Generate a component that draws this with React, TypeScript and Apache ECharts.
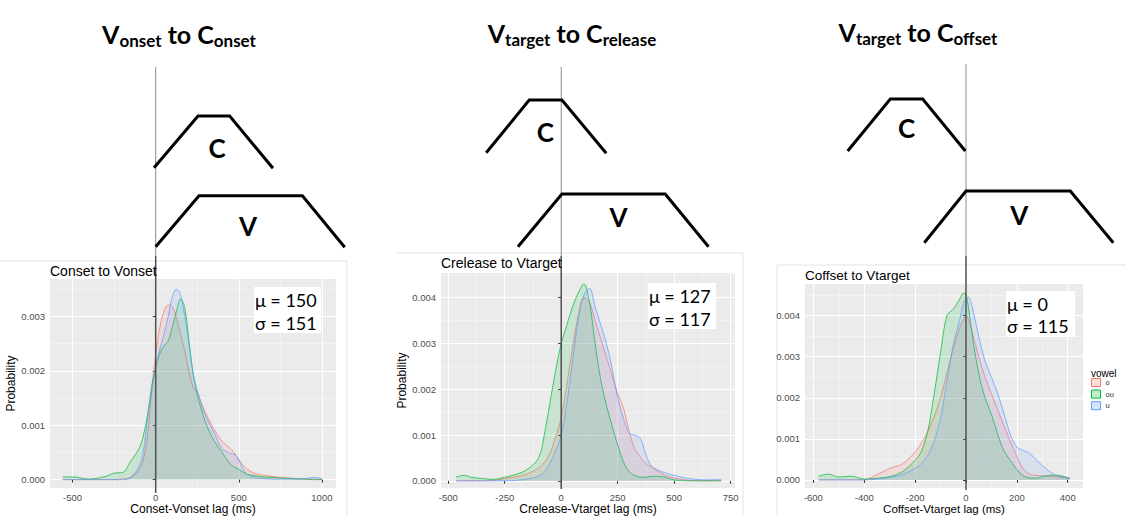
import React, { useEffect, useRef } from 'react';
import * as echarts from 'echarts';

// ---------- data ----------
const VOWELS = ['o', 'ou', 'u'];
const COLORS = ['#F8766D', '#00BA38', '#619CFF'];

// Panel 1: Conset to Vonset
const P1_X = [-560, -500, -400, -300, -250, -200, -150, -100, -75, -50, -25, 0, 25, 50, 75, 100, 125, 150, 175, 200, 225, 250, 275, 300, 350, 400, 450, 475, 500, 525, 550, 600, 650, 700, 800, 900, 950, 1000];
const P1_O = [0, 0, 0, 0, 0, 0.00001, 0.00004, 0.00018, 0.00036, 0.0008, 0.0016, 0.0023, 0.0028, 0.0031, 0.00321, 0.00318, 0.00298, 0.00267, 0.00237, 0.002, 0.0017, 0.0016, 0.0014, 0.00123, 0.00093, 0.0007, 0.00057, 0.00048, 0.00037, 0.00027, 0.00019, 0.00011, 0.00008, 0.00006, 0.00003, 0.00001, 0.00001, 0];
const P1_OU = [0.00005, 0.00005, 0.00001, 0.00006, 0.00012, 0.00013, 0.00034, 0.00057, 0.0008, 0.00117, 0.0017, 0.00207, 0.00232, 0.00246, 0.00255, 0.0028, 0.0031, 0.00332, 0.00316, 0.00255, 0.00195, 0.00156, 0.0013, 0.00105, 0.00072, 0.0005, 0.00028, 0.00023, 0.00019, 0.00014, 0.0001, 0.00007, 0.00005, 0.00004, 0.00002, 0.00001, 0, 0];
const P1_U = [0, 0, 0, 0, 0, 0, 0.00004, 0.00025, 0.0005, 0.0011, 0.0016, 0.00207, 0.0024, 0.00267, 0.003, 0.00336, 0.0035, 0.0034, 0.003, 0.0025, 0.00195, 0.00165, 0.0014, 0.00117, 0.00087, 0.00057, 0.00048, 0.00046, 0.00036, 0.0002, 0.0001, 0.00004, 0.00002, 0.00001, 0.00001, 0.00002, 0.00004, 0.00002];
const P1_X_TICKS = [-500, 0, 500, 1000];
const P1_X_MINOR = [-250, 250, 750];
const P1_Y_TICKS = [0, 0.001, 0.002, 0.003];
const P1_Y_MINOR = [0.0005, 0.0015, 0.0025, 0.0035];

// Panel 2: Crelease to Vtarget
const P2_X = [-465, -430, -400, -350, -300, -250, -200, -150, -100, -75, -50, -25, 0, 25, 50, 75, 100, 125, 150, 175, 200, 225, 250, 275, 300, 325, 350, 375, 400, 450, 500, 550, 600, 650, 708];
const P2_O = [0, 0, 0, 0, 0.00001, 0.00005, 0.00009, 0.00015, 0.00028, 0.0004, 0.0006, 0.00095, 0.00137, 0.0021, 0.0029, 0.0036, 0.004, 0.0039, 0.0035, 0.0031, 0.0027, 0.0023, 0.0019, 0.0016, 0.0011, 0.0007, 0.00052, 0.00037, 0.0003, 0.00014, 0.00006, 0.00002, 0, 0, 0];
const P2_OU = [0.00008, 0.00012, 0.00008, 0.00005, 0.00003, 0.00008, 0.00014, 0.00025, 0.0005, 0.001, 0.0017, 0.0024, 0.003, 0.0034, 0.0038, 0.0041, 0.0043, 0.0039, 0.003, 0.0022, 0.00165, 0.0012, 0.00078, 0.00042, 0.0002, 0.00012, 0.00008, 0.00008, 0.0001, 0.00009, 0.00002, 0, 0, 0, 0];
const P2_U = [0, 0, 0, 0, 0, 0, 0.00001, 0.00004, 0.0001, 0.00018, 0.00038, 0.00065, 0.001, 0.0017, 0.0026, 0.0035, 0.00405, 0.0042, 0.0038, 0.0034, 0.003, 0.00246, 0.0018, 0.00137, 0.00104, 0.001, 0.00093, 0.00057, 0.00032, 0.00019, 0.00012, 0.00006, 0.00003, 0.00002, 0.00003];
const P2_X_TICKS = [-500, -250, 0, 250, 500, 750];
const P2_X_MINOR = [-375, -125, 125, 375, 625];
const P2_Y_TICKS = [0, 0.001, 0.002, 0.003, 0.004];
const P2_Y_MINOR = [0.0005, 0.0015, 0.0025, 0.0035, 0.0045];

// Panel 3: Coffset to Vtarget
const P3_X = [-580, -540, -500, -450, -400, -350, -300, -250, -200, -175, -150, -125, -100, -75, -50, -25, -10, 0, 10, 25, 50, 75, 100, 125, 150, 175, 200, 225, 250, 275, 300, 350, 408];
const P3_O = [0, 0, 0, 0, 0, 0.00013, 0.00028, 0.00039, 0.00068, 0.0009, 0.00118, 0.00155, 0.002, 0.0026, 0.0032, 0.0037, 0.0039, 0.004, 0.0039, 0.0036, 0.003, 0.0025, 0.0021, 0.0017, 0.0013, 0.00093, 0.00057, 0.00027, 0.00014, 0.00011, 0.0001, 0.00008, 0.00004];
const P3_OU = [0.00009, 0.00014, 0.00007, 0.00009, 0.00002, 0.00004, 0.00008, 0.0002, 0.00048, 0.0007, 0.0012, 0.0021, 0.0031, 0.004, 0.00416, 0.0044, 0.00455, 0.0045, 0.0042, 0.0035, 0.0026, 0.002, 0.0016, 0.0011, 0.0007, 0.00047, 0.00025, 0.0001, 0.00005, 0.00004, 0.00008, 0.00012, 0.00004];
const P3_U = [0, 0, 0, 0, 0, 0.00002, 0.00006, 0.00013, 0.00028, 0.0004, 0.0006, 0.00095, 0.0015, 0.0024, 0.0033, 0.0039, 0.0043, 0.00442, 0.00445, 0.0042, 0.0035, 0.0029, 0.0025, 0.0021, 0.0016, 0.0011, 0.0008, 0.00072, 0.00065, 0.0005, 0.00035, 0.00012, 0.00004];
const P3_X_TICKS = [-600, -400, -200, 0, 200, 400];
const P3_X_MINOR = [-500, -300, -100, 100, 300];
const P3_Y_TICKS = [0, 0.001, 0.002, 0.003, 0.004];
const P3_Y_MINOR = [0.0005, 0.0015, 0.0025, 0.0035, 0.0045];

const PLOT_TITLES = ['Conset to Vonset', 'Crelease to Vtarget', 'Coffset to Vtarget'];
const X_NAMES = ['Conset-Vonset lag (ms)', 'Crelease-Vtarget lag (ms)', 'Coffset-Vtarget lag (ms)'];
const MU = [150, 127, 0];
const SIGMA = [151, 117, 115];
const DIAGRAM_TITLES = [
  ['V', 'onset', ' to C', 'onset'],
  ['V', 'target', ' to C', 'release'],
  ['V', 'target', ' to C', 'offset'],
];

// ---------- layout ----------
const PANELS = [
  {
    x: P1_X, ys: [P1_O, P1_OU, P1_U], xTicks: P1_X_TICKS, xMinor: P1_X_MINOR, yTicks: P1_Y_TICKS, yMinor: P1_Y_MINOR,
    grid: { left: 50, top: 279, width: 286, height: 214 }, xMin: -636, xMax: 1085, yMin: -0.000156, yMax: 0.003688,
    yName: 'Probability', xNameGap: 13, xNameSize: 12, titleY: 271, titleSize: 14,
    box: { x: 254, y: 287, w: 67, h: 46, l1: 300, l2: 323 },
    diag: {
      tx: 179, ty: 34, top: 67,
      c: [[-1.7, 167.7], [42.3, 116], [74, 116], [117.3, 168.3]], cl: [61.3, 148],
      v: [[0, 246.7], [43.3, 195.7], [146.7, 195.7], [189, 247.3]], vl: [92.3, 226],
    },
  },
  {
    x: P2_X, ys: [P2_O, P2_OU, P2_U], xTicks: P2_X_TICKS, xMinor: P2_X_MINOR, yTicks: P2_Y_TICKS, yMinor: P2_Y_MINOR,
    grid: { left: 441, top: 273, width: 294, height: 216 }, xMin: -532, xMax: 769, yMin: -0.000159, yMax: 0.004537,
    yName: 'Probability', xNameGap: 14, xNameSize: 12, titleY: 263, titleSize: 14,
    box: { x: 648, y: 283, w: 68, h: 46, l1: 296, l2: 318.5 },
    diag: {
      tx: 572, ty: 33, top: 67,
      c: [[-75, 152.7], [-32, 100], [0.7, 100], [45, 153.3]], cl: [-16, 131.7],
      v: [[-43.3, 246.7], [0.7, 194], [104, 194], [147.3, 246.7]], vl: [57.3, 216.7],
    },
  },
  {
    x: P3_X, ys: [P3_O, P3_OU, P3_U], xTicks: P3_X_TICKS, xMinor: P3_X_MINOR, yTicks: P3_Y_TICKS, yMinor: P3_Y_MINOR,
    grid: { left: 805, top: 284, width: 278, height: 206 }, xMin: -633, xMax: 460, yMin: -0.0002, yMax: 0.004772,
    yName: '', xNameGap: 12.5, xNameSize: 11.5, titleY: 275, titleSize: 13.5,
    box: { x: 1006, y: 291, w: 69, h: 46, l1: 304.3, l2: 326 },
    diag: {
      tx: 918, ty: 32, top: 64,
      c: [[-118.3, 151], [-75.7, 99], [-43.3, 99], [-0.7, 151]], cl: [-59.3, 128.3],
      v: [[-41.7, 242.7], [0, 191], [104.3, 191], [147.3, 242.7]], vl: [53.3, 215],
    },
  },
];

const BORDERS = [
  [[0, 261], [347, 261]], [[347, 261], [347, 516]],
  [[397, 253], [743, 253]], [[743, 253], [743, 516]],
  [[777, 265], [1126, 265]], [[777, 265], [777, 516]],
];

const SANS = '"Liberation Sans", Arial, sans-serif';
const CAL = 'Lato, "Open Sans", sans-serif';

function buildOption(): any {
  const grids: any[] = [];
  const xAxes: any[] = [];
  const yAxes: any[] = [];
  const series: any[] = [];
  PANELS.forEach((p, i) => {
    grids.push({ ...p.grid, show: true, backgroundColor: '#EBEBEB', borderWidth: 0, containLabel: false });
    xAxes.push({
      type: 'value', gridIndex: i, min: p.xMin, max: p.xMax, position: 'bottom',
      axisLine: { show: false },
      axisTick: { show: true, customValues: p.xTicks, length: 3, lineStyle: { color: '#333', width: 1 } },
      axisLabel: { customValues: p.xTicks, fontSize: 9.5, color: '#4D4D4D', margin: 4, fontFamily: SANS, formatter: (v: number) => String(v) },
      splitLine: { show: true, lineStyle: { color: '#FFFFFF', width: 1.1 } },
      name: X_NAMES[i], nameLocation: 'middle', nameGap: p.xNameGap,
      nameTextStyle: { fontSize: p.xNameSize, color: '#000', fontFamily: SANS, verticalAlign: 'top' },
    });
    xAxes.push({
      type: 'value', gridIndex: i, min: p.xMin, max: p.xMax, position: 'top',
      axisLine: { show: false }, axisLabel: { show: false },
      axisTick: { show: false, customValues: p.xMinor },
      splitLine: { show: true, lineStyle: { color: '#F7F7F7', width: 0.6 } },
    });
    yAxes.push({
      type: 'value', gridIndex: i, min: p.yMin, max: p.yMax, position: 'left',
      axisLine: { show: false },
      axisTick: { show: true, customValues: p.yTicks, length: 3, lineStyle: { color: '#333', width: 1 } },
      axisLabel: { customValues: p.yTicks, fontSize: 9.5, color: '#4D4D4D', margin: 5, fontFamily: SANS, formatter: (v: number) => v.toFixed(3) },
      splitLine: { show: true, lineStyle: { color: '#FFFFFF', width: 1.1 } },
      name: p.yName, nameLocation: 'middle', nameGap: 29,
      nameTextStyle: { fontSize: 12, color: '#000', fontFamily: SANS },
    });
    yAxes.push({
      type: 'value', gridIndex: i, min: p.yMin, max: p.yMax, position: 'right',
      axisLine: { show: false }, axisLabel: { show: false },
      axisTick: { show: false, customValues: p.yMinor },
      splitLine: { show: true, lineStyle: { color: '#F7F7F7', width: 0.6 } },
    });
    p.ys.forEach((ys, j) => {
      series.push({
        type: 'line', name: VOWELS[j], xAxisIndex: i * 2, yAxisIndex: i * 2,
        data: p.x.map((x, k) => [x, ys[k]]),
        showSymbol: false, symbol: 'none', smooth: 0.35, silent: true,
        lineStyle: { color: COLORS[j], width: 1, opacity: 0.72 },
        itemStyle: { color: COLORS[j] },
        areaStyle: { color: COLORS[j], opacity: 0.14 },
        z: 3 + j,
      });
    });
  });
  return {
    animation: false,
    backgroundColor: '#FFFFFF',
    grid: grids,
    xAxis: xAxes,
    yAxis: yAxes,
    series,
    legend: {
      orient: 'vertical', left: 1091, top: 378, itemWidth: 9, itemHeight: 8, itemGap: 2.6,
      selectedMode: false, padding: 0,
      textStyle: { fontSize: 7.5, color: '#333', fontFamily: SANS },
      data: VOWELS.map((v, j) => ({
        name: v, icon: 'rect',
        itemStyle: { color: echarts.color.modifyAlpha(COLORS[j], 0.25), borderColor: COLORS[j], borderWidth: 1 },
      })),
    },
  };
}

function buildGraphic(chart: any): any[] {
  const g: any[] = [];
  BORDERS.forEach(([a, b]) => {
    g.push({ type: 'line', silent: true, z: 0, shape: { x1: a[0], y1: a[1], x2: b[0], y2: b[1] }, style: { stroke: '#E4E4E4', lineWidth: 1 } });
  });
  PANELS.forEach((p, i) => {
    const x0 = chart.convertToPixel({ xAxisIndex: i * 2 }, 0);
    const yBottom = p.grid.top + p.grid.height;
    const d = p.diag;
    const t = DIAGRAM_TITLES[i];
    g.push({
      type: 'text', x: d.tx, y: d.ty, silent: true,
      style: {
        text: `{b|${t[0]}}{s|${t[1]}}{b|${t[2]}}{s|${t[3]}}`,
        align: 'center', verticalAlign: 'middle',
        rich: {
          b: { fontSize: 25, fontWeight: 'bold', fontFamily: CAL, fill: '#000', lineHeight: 30, verticalAlign: 'middle' },
          s: { fontSize: 17, fontWeight: 'bold', fontFamily: CAL, fill: '#000', lineHeight: 20, verticalAlign: 'bottom' },
        },
      },
    });
    g.push({ type: 'line', silent: true, z: 50, shape: { x1: x0, y1: d.top, x2: x0, y2: 256 }, style: { stroke: '#8C8C8C', lineWidth: 1 } });
    g.push({ type: 'line', silent: true, z: 50, shape: { x1: x0, y1: 256, x2: x0, y2: yBottom }, style: { stroke: '#4F4F4F', lineWidth: 1.5 } });
    g.push({ type: 'polyline', silent: true, z: 50, shape: { points: d.c.map(([dx, y]) => [x0 + dx, y]) }, style: { stroke: '#000', lineWidth: 3, fill: null } });
    g.push({ type: 'polyline', silent: true, z: 50, shape: { points: d.v.map(([dx, y]) => [x0 + dx, y]) }, style: { stroke: '#000', lineWidth: 3, fill: null } });
    g.push({ type: 'text', silent: true, z: 50, x: x0 + d.cl[0], y: d.cl[1], style: { text: 'C', fontSize: 26, fontWeight: 'bold', fontFamily: CAL, fill: '#000', align: 'center', verticalAlign: 'middle' } });
    g.push({ type: 'text', silent: true, z: 50, x: x0 + d.vl[0], y: d.vl[1], style: { text: 'V', fontSize: 26, fontWeight: 'bold', fontFamily: CAL, fill: '#000', align: 'center', verticalAlign: 'middle' } });
    g.push({ type: 'text', silent: true, z: 50, x: p.grid.left, y: p.titleY, style: { text: PLOT_TITLES[i], fontSize: p.titleSize, fontFamily: SANS, fill: '#000', align: 'left', verticalAlign: 'middle' } });
    const b = p.box;
    g.push({ type: 'rect', silent: true, z: 60, shape: { x: b.x, y: b.y, width: b.w, height: b.h }, style: { fill: '#FFFFFF' } });
    g.push({ type: 'text', silent: true, z: 61, x: b.x + 1, y: b.l1, style: { text: `μ = ${MU[i]}`, fontSize: 18, fontFamily: CAL, fill: '#000', align: 'left', verticalAlign: 'middle' } });
    g.push({ type: 'text', silent: true, z: 61, x: b.x + 1, y: b.l2, style: { text: `σ = ${SIGMA[i]}`, fontSize: 18, fontFamily: CAL, fill: '#000', align: 'left', verticalAlign: 'middle' } });
  });
  g.push({ type: 'text', silent: true, z: 50, x: 1091, y: 373, style: { text: 'vowel', fontSize: 10, fontFamily: SANS, fill: '#000', align: 'left', verticalAlign: 'middle' } });
  return g;
}

export default function App() {
  const ref = useRef<HTMLDivElement>(null);
  useEffect(() => {
    if (!ref.current) return;
    const chart = echarts.init(ref.current, null, { renderer: 'svg' });
    chart.setOption(buildOption());
    chart.setOption({ graphic: buildGraphic(chart) });
    return () => chart.dispose();
  }, []);
  return <div ref={ref} style={{ position: 'absolute', left: 0, top: 0, width: 1126, height: 516 }} />;
}
